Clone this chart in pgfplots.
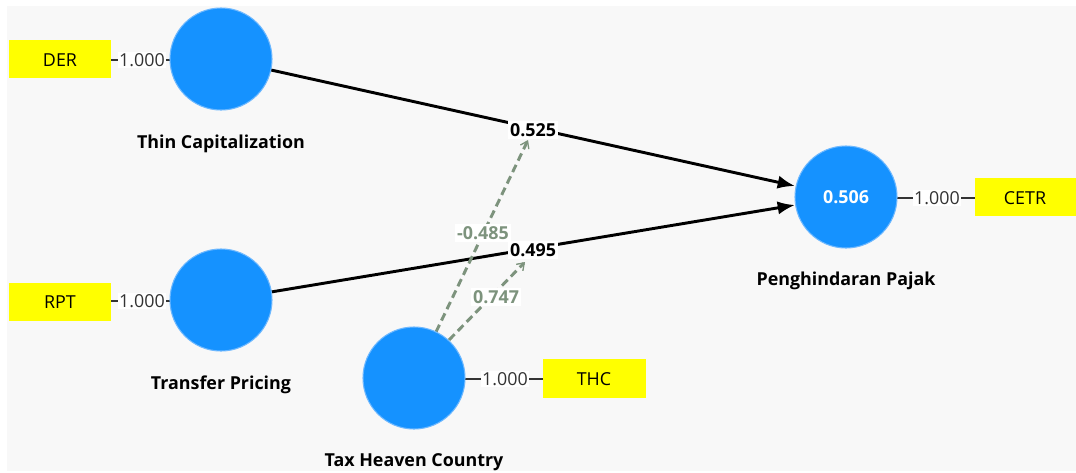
\documentclass[border=0pt]{standalone}
\usepackage{pgfplots}
\pgfplotsset{compat=1.18}
\usetikzlibrary{arrows.meta}
\usepackage{fontspec}
\setmainfont{Open Sans}
\definecolor{bg}{HTML}{F8F8F8}
\definecolor{lv}{HTML}{1592FF}
\definecolor{lvedge}{HTML}{6DB8FF}
\definecolor{modc}{HTML}{7D937D}
\definecolor{ind}{HTML}{FFFF00}
\definecolor{ld}{HTML}{333333}
\newcommand{\lbl}{\fontsize{13.4}{15}\selectfont}

\begin{document}
\begin{tikzpicture}
\begin{axis}[
  scale only axis, width=807pt, height=354pt,
  xmin=0, xmax=1076, ymin=0, ymax=472, y dir=reverse,
  hide axis, clip=false
]
% background panel
\addplot[fill=bg, draw=none] coordinates {(7,6) (1076,6) (1076,471) (7,471)} -- cycle;

% indicator boxes
\addplot[fill=ind, draw=none] coordinates {(9,40) (111,40) (111,78) (9,78)} -- cycle;
\addplot[fill=ind, draw=none] coordinates {(9,283) (111,283) (111,321) (9,321)} -- cycle;
\addplot[fill=ind, draw=none] coordinates {(543,359) (646,359) (646,398) (543,398)} -- cycle;
\addplot[fill=ind, draw=none] coordinates {(975,178) (1076,178) (1076,216) (975,216)} -- cycle;

% outer loadings
\addplot[ld, line width=1.3pt] coordinates {(111,60) (170,60)};
\addplot[ld, line width=1.3pt] coordinates {(111,301) (170,301)};
\addplot[ld, line width=1.3pt] coordinates {(465,379) (543,379)};
\addplot[ld, line width=1.3pt] coordinates {(897,198) (975,198)};

% latent variables
\addplot[only marks, mark=*, mark size=38.25pt,
  mark options={fill=lv, draw=lvedge, line width=0.8pt}]
  coordinates {(221,59) (221,300) (414,378) (846,197)};

% structural paths
\addplot[black, line width=2.2pt, -{Latex[length=13pt, width=10pt]}]
  coordinates {(271,70) (795,186)};
\addplot[black, line width=2.2pt, -{Latex[length=13pt, width=10pt]}]
  coordinates {(271,292) (795,205)};

% moderating effects
\addplot[modc, line width=2.2pt, dash pattern=on 6pt off 3.5pt,
  -{Straight Barb[length=5pt, width=7pt, line width=1pt]}]
  coordinates {(436,332) (528,140)};
\addplot[modc, line width=2.2pt, dash pattern=on 6pt off 3.5pt,
  -{Straight Barb[length=5pt, width=7pt, line width=1pt]}]
  coordinates {(449,340) (525,262)};

% loading values
\node[fill=white, inner sep=1pt, text=ld] at (axis cs:142,60) {\lbl 1.000};
\node[fill=white, inner sep=1pt, text=ld] at (axis cs:142,301) {\lbl 1.000};
\node[fill=white, inner sep=1pt, text=ld] at (axis cs:505,379) {\lbl 1.000};
\node[fill=white, inner sep=1pt, text=ld] at (axis cs:937,198) {\lbl 1.000};

% path coefficients
\node[fill=white, inner sep=1.5pt] at (axis cs:533,130) {\lbl\bfseries 0.525};
\node[fill=white, inner sep=1.5pt] at (axis cs:533,250) {\lbl\bfseries 0.495};
\node[fill=white, inner sep=1.5pt, text=modc] at (axis cs:483,233) {\lbl\bfseries -0.485};
\node[fill=white, inner sep=1.5pt, text=modc] at (axis cs:496,297) {\lbl\bfseries 0.747};

% construct names
\node at (axis cs:221,144) {\lbl\bfseries Thin Capitalization};
\node at (axis cs:221,385) {\lbl\bfseries Transfer Pricing};
\node at (axis cs:414,462) {\lbl\bfseries Tax Heaven Country};
\node at (axis cs:846,281) {\lbl\bfseries Penghindaran Pajak};

% indicator names
\node at (axis cs:60,60) {\lbl DER};
\node at (axis cs:60,302) {\lbl RPT};
\node at (axis cs:594,379) {\lbl THC};
\node at (axis cs:1025,198) {\lbl CETR};

\coordinate (rsq) at (axis cs:846,197);
\coordinate (ll) at (axis cs:0,472);
\coordinate (ur) at (axis cs:1076,0);
\end{axis}
% R square, set over the marker
\node[text=white] at (rsq) {\lbl\bfseries 0.506};
\pgfresetboundingbox
\path[use as bounding box] (ll) rectangle (ur);
\end{tikzpicture}
\end{document}
